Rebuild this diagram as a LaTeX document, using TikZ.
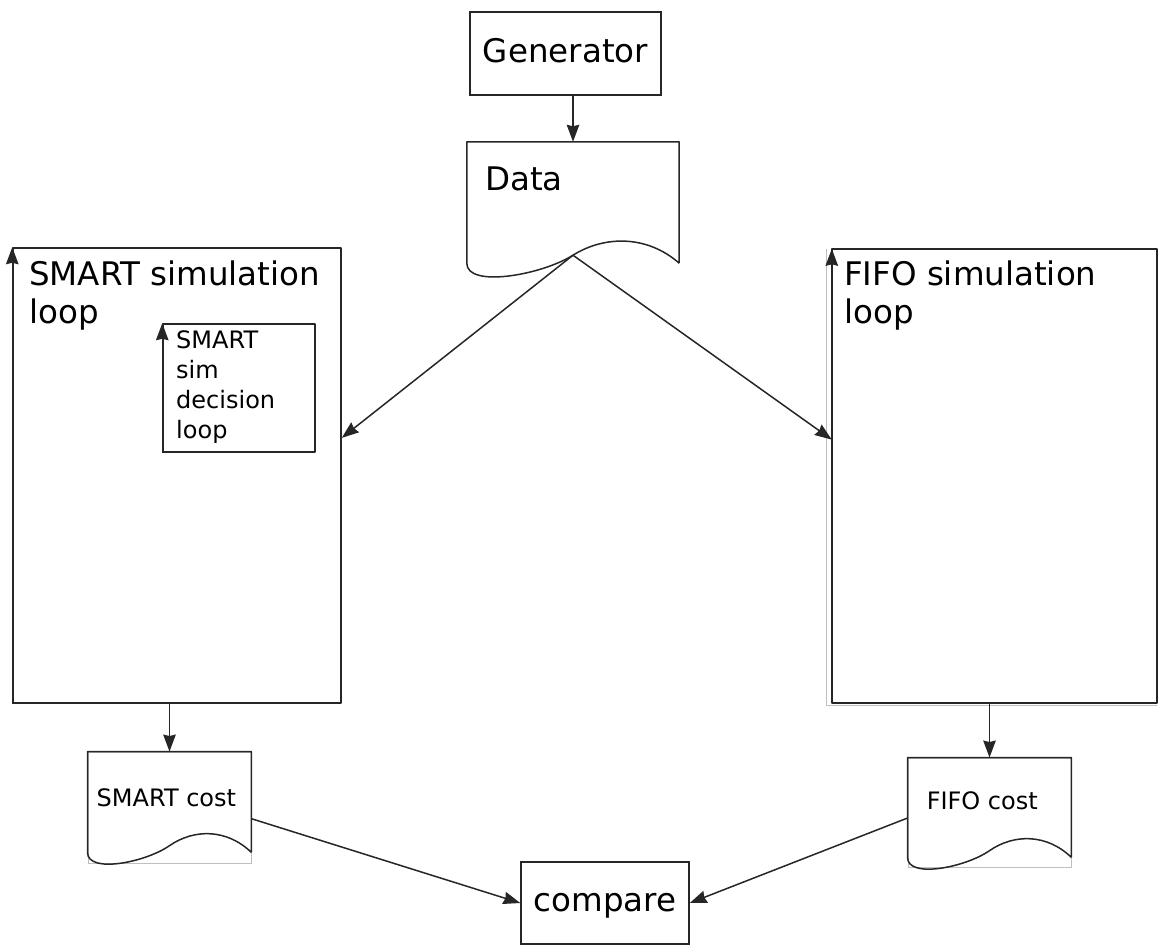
\documentclass[tikz,border=0pt]{standalone}
\usepackage{fontspec}
\setmainfont{DejaVu Sans}
\usetikzlibrary{arrows.meta,calc}
\newcommand\docshape[3]{%
  \draw[ln] let \p1=(#1.north west), \p2=(#1.south east) in
    (\x2,{\y2+#2pt}) -- (\x2,\y1) -- (\x1,\y1) -- (\x1,{\y2+#2pt})
    .. controls (\x1,{\y2+#2pt-25pt*#3}) and ({\x1+0.35*(\x2-\x1)},{\y2+#2pt-12pt*#3}) ..
    ({\x1+0.5*(\x2-\x1)},{\y2+#2pt+8pt*#3}) coordinate (#1-w)
    .. controls ({\x1+0.65*(\x2-\x1)},{\y2+#2pt+28pt*#3}) and ({\x1+0.85*(\x2-\x1)},{\y2+#2pt+28pt*#3}) ..
    (\x2,{\y2+#2pt});
}
\begin{document}
\begin{tikzpicture}[x=1pt,y=-1pt,
  ln/.style={line width=1.5pt, draw=black!85, line join=round},
  arr/.style={ln, -{Stealth[length=17pt,width=12.5pt,inset=1.5pt]}},
  box/.style={draw=black!85, line width=1.5pt, rectangle, inner sep=0pt,
    font=\fontsize{32.5}{38}\selectfont, text height=24pt, text depth=7pt},
  frame/.style={rectangle, inner sep=0pt, draw=none},
  ghost/.style={draw=black!25, line width=0.9pt},
  big/.style={inner sep=0pt, anchor=base west, font=\fontsize{32.5}{38}\selectfont},
  small/.style={inner sep=0pt, anchor=base west, font=\fontsize{24}{30}\selectfont}]
\useasboundingbox (0,0) rectangle (1158,946);

% Generator
\node[box, minimum width=191pt, minimum height=83pt] (gen) at (565.5,53.5) {Generator};

% Data document
\node[frame, minimum width=212pt, minimum height=135pt] (data) at (573,209.5) {};
\docshape{data}{14}{1}
\node[big] (datalbl) at (485,190) {Data};

% SMART simulation loop
\node[frame, draw, ln, minimum width=328pt, minimum height=455pt] (smart) at (177,475.5) {};
\draw[arr] (smart.south west) -- (smart.north west);
\node[big] (smartlbl) at (29,285) {\begin{tabular}[t]{@{}l@{}}SMART simulation\\loop\end{tabular}};

% inner decision loop
\node[frame, draw, ln, minimum width=152pt, minimum height=128pt] (inner) at (239,388) {};
\draw[arr] (inner.south west) -- (inner.north west);
\node[small] (innerlbl) at (176,348) {\begin{tabular}[t]{@{}l@{}}SMART\\sim\\decision\\loop\end{tabular}};

% FIFO simulation loop
\node[frame, minimum width=325pt, minimum height=454pt] (fifo) at (994.5,476) {};
\draw[ghost] ($(fifo.north west)+(-5,0)$) -- ($(fifo.south west)+(-5,2)$) -- ($(fifo.south east)+(0,2)$);
\draw[ln] (fifo.south west) rectangle (fifo.north east);
\draw[arr] (fifo.south west) -- (fifo.north west);
\node[big] (fifolbl) at (844,285) {\begin{tabular}[t]{@{}l@{}}FIFO simulation\\loop\end{tabular}};

% SMART cost document
\node[frame, ghost, minimum width=163pt, minimum height=111pt] (smartcost) at (169.5,807.5) {};
\docshape{smartcost}{11}{0.85}
\node[small] (smartcostlbl) at (96.5,806) {SMART cost};

% FIFO cost document
\node[frame, ghost, minimum width=163pt, minimum height=109pt] (fifocost) at (989.5,812.5) {};
\docshape{fifocost}{10}{0.85}
\node[small] (fifocostlbl) at (926.6,809) {FIFO cost};

% compare
\node[box, minimum width=168pt, minimum height=82pt] (cmp) at (605,903) {compare};

% connectors
\draw[arr] (gen.south -| data.north) -- (data.north);
\draw[arr] (data-w) -- ($(smart.north east)!0.4176!(smart.south east)$);
\draw[arr] (data-w) -- ($(fifo.north west)!0.42!(fifo.south west)$);
\draw[arr] (smart.south -| smartcost.north) -- (smartcost.north);
\draw[arr] (fifo.south -| fifocost.north) -- (fifocost.north);
\draw[arr] ($(smartcost.north east)!0.6!(smartcost.south east)$) -- (cmp.west);
\draw[arr] ($(fifocost.north west)!0.55!(fifocost.south west)$) -- (cmp.east);
\end{tikzpicture}
\end{document}
